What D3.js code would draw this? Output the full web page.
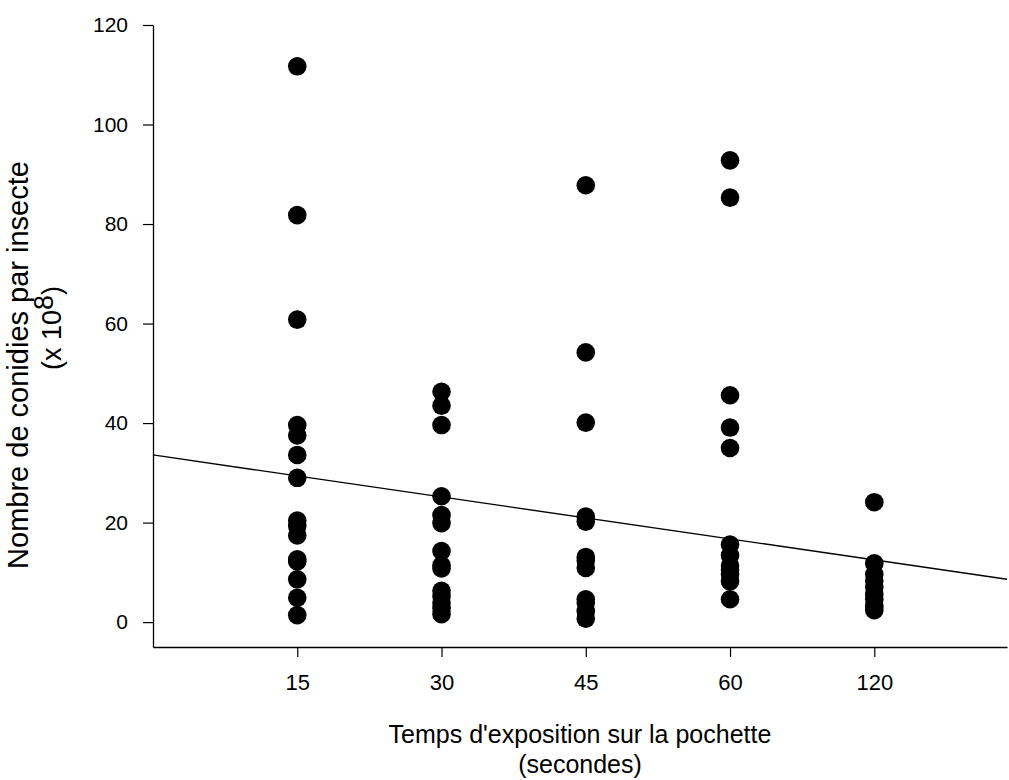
<!DOCTYPE html>
<html>
<head>
<meta charset="utf-8">
<script src="https://cdn.jsdelivr.net/npm/d3@7"></script>
<style>
  body { margin: 0; background: #fff; }
  svg text { font-family: "Liberation Sans", Arial, sans-serif; fill: #000; }
  .xlab text, .xtitle { font-family: "Liberation Sans Narrow", "Arial Narrow", "Liberation Sans", sans-serif; }
</style>
</head>
<body>
<div id="chart"></div>
<script>
// exposure times (categories on x)
var categories = ["15", "30", "45", "60", "120"];
// conidia per insect (x 10^8), one list per exposure time
var vals15 = [111.7, 81.8, 60.8, 39.6, 37.5, 33.6, 29.0, 20.4, 19.3, 17.4, 12.6, 12.2, 8.6, 4.9, 1.4];
var vals30 = [46.3, 43.5, 39.6, 25.3, 21.5, 19.9, 14.3, 11.4, 10.8, 6.3, 5.2, 3.9, 2.8, 1.6];
var vals45 = [87.8, 54.2, 40.1, 21.2, 20.2, 13.1, 12.4, 10.9, 4.6, 3.9, 2.2, 0.7];
var vals60 = [92.8, 85.3, 45.6, 39.1, 35.0, 15.6, 13.4, 11.3, 10.5, 9.6, 8.2, 4.6];
var vals120 = [24.1, 11.8, 9.6, 8.3, 7.0, 5.6, 4.6, 3.2, 2.4];
var yTicks = [0, 20, 40, 60, 80, 100, 120];
// regression line (per category step)
var regIntercept = 33.6;
var regSlope = -4.22;

var series = [vals15, vals30, vals45, vals60, vals120];

var width = 1009, height = 780;
var svg = d3.select("#chart").append("svg")
  .attr("width", width).attr("height", height);

var x = d3.scaleLinear().domain([0, 5.92]).range([153, 1007]);
var y = d3.scaleLinear().domain([-5, 120]).range([647, 25]);

// flatten points
var points = [];
series.forEach(function(arr, i){
  arr.forEach(function(v){ points.push({ idx: i + 1, v: v }); });
});

// y axis
var yAxis = svg.append("g")
  .attr("transform", "translate(" + x(0) + ",0)")
  .call(d3.axisLeft(y).tickValues(yTicks).tickSize(10).tickSizeOuter(0).tickPadding(15));
yAxis.selectAll("text").style("font-size", "21px");

// x axis
var xAxis = svg.append("g")
  .attr("class", "xlab")
  .attr("transform", "translate(0," + y(-5) + ")")
  .call(d3.axisBottom(x).tickValues([1, 2, 3, 4, 5])
    .tickFormat(function(d){ return categories[d - 1]; })
    .tickSize(10).tickSizeOuter(0).tickPadding(17));
xAxis.selectAll("text").style("font-size", "22px");
svg.selectAll(".domain").attr("stroke", "#000").attr("stroke-width", 1.3);
svg.selectAll(".tick line").attr("stroke", "#000").attr("stroke-width", 1.2);

// regression line
var line = d3.line()
  .x(function(d){ return x(d); })
  .y(function(d){ return y(regIntercept + regSlope * d); });
svg.append("path")
  .datum(x.domain())
  .attr("d", line)
  .attr("fill", "none")
  .attr("stroke", "#000")
  .attr("stroke-width", 1.4);

// points
svg.selectAll("circle.pt")
  .data(points)
  .enter().append("circle")
    .attr("class", "pt")
    .attr("cx", function(d){ return x(d.idx); })
    .attr("cy", function(d){ return y(d.v); })
    .attr("r", 9.3)
    .attr("fill", "#000");

// axis titles
svg.append("text")
  .attr("class", "xtitle")
  .attr("x", 580).attr("y", 743)
  .attr("text-anchor", "middle")
  .style("font-size", "25px")
  .text("Temps d'exposition sur la pochette");
svg.append("text")
  .attr("class", "xtitle")
  .attr("x", 580).attr("y", 773)
  .attr("text-anchor", "middle")
  .style("font-size", "25px")
  .text("(secondes)");

svg.append("text")
  .attr("transform", "translate(28,365) rotate(-90)")
  .attr("text-anchor", "middle")
  .style("font-size", "29px")
  .text("Nombre de conidies par insecte");
var t2 = svg.append("text")
  .attr("transform", "translate(61,328) rotate(-90)")
  .attr("text-anchor", "middle")
  .style("font-size", "27px");
t2.append("tspan").text("(x 10");
t2.append("tspan").attr("dy", -8).text("8");
t2.append("tspan").attr("dy", 8).text(")");
</script>
</body>
</html>
